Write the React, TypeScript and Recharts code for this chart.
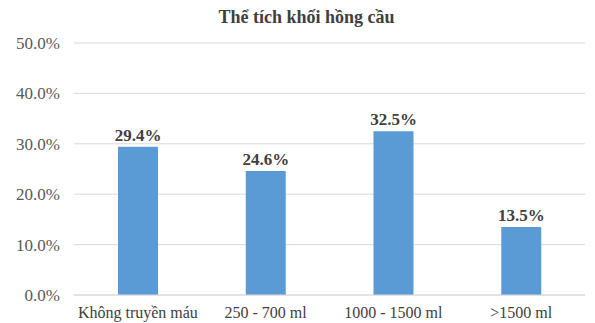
import { BarChart, Bar, XAxis, YAxis, CartesianGrid, LabelList } from 'recharts';

const categories = ['Không truyền máu', '250 - 700 ml', '1000 - 1500 ml', '>1500 ml'];
const values = [29.4, 24.6, 32.5, 13.5];
const yTicks = [0, 10, 20, 30, 40, 50];

const data = categories.map((name, i) => ({ name, value: values[i] }));

const FONT = '"Liberation Serif", "Times New Roman", serif';

export default function App() {
  const fmt = (v: number) => `${v.toFixed(1)}%`;
  return (
    <div style={{ position: 'absolute', left: 0, top: 0, width: 595, height: 323, background: '#fff', fontFamily: FONT }}>
      <div
        style={{
          position: 'absolute',
          top: 5,
          left: 9,
          width: 595,
          textAlign: 'center',
          fontSize: 18,
          lineHeight: '24px',
          fontWeight: 'bold',
          color: '#404040',
          fontFamily: FONT,
        }}
      >
        Thể tích khối hồng cầu
      </div>
      <BarChart
        width={595}
        height={323}
        data={data}
        margin={{ top: 43, right: 10, left: 0, bottom: 0 }}
        style={{ fontFamily: FONT }}
      >
        <CartesianGrid vertical={false} stroke="#d9d9d9" />
        <XAxis
          dataKey="name"
          height={28}
          tickLine={false}
          axisLine={{ stroke: '#d9d9d9' }}
          tick={{ fontSize: 16, fill: '#404040', fontFamily: FONT }}
          tickMargin={6}
          interval={0}
        />
        <YAxis
          width={74}
          domain={[0, 50]}
          ticks={yTicks}
          tickFormatter={fmt}
          tickLine={false}
          axisLine={false}
          tick={{ fontSize: 17, fill: '#595959', fontFamily: FONT }}
          tickMargin={8}
        />
        <Bar dataKey="value" fill="#5b9bd5" barSize={40} isAnimationActive={false}>
          <LabelList
            dataKey="value"
            position="top"
            offset={6}
            formatter={(v: number) => fmt(v)}
            style={{ fontSize: 17, fontWeight: 'bold', fill: '#404040', fontFamily: FONT }}
          />
        </Bar>
      </BarChart>
    </div>
  );
}
